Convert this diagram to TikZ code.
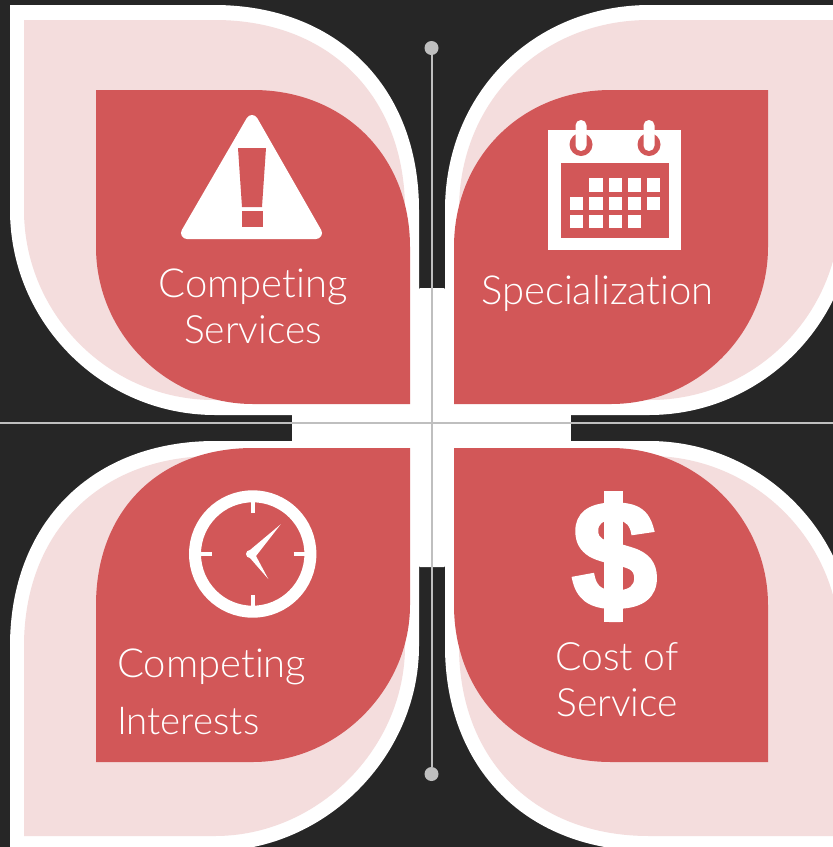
\documentclass[tikz,border=0pt]{standalone}
\usepackage{fontspec}
\usetikzlibrary{calc}
\setmainfont[Ligatures=NoCommon]{Lato Light}
\newfontfamily\dollarfont[FakeBold=2]{Liberation Sans Bold}
\definecolor{bg}{HTML}{262626}
\definecolor{leafred}{HTML}{D25758}
\definecolor{leafpink}{HTML}{F4DDDD}
\definecolor{rule}{HTML}{BFBFBF}
\tikzset{
  label text/.style={text=white,font=\fontsize{40}{40}\selectfont,anchor=base,inner sep=0pt},
  label narrow/.style={label text,font=\fontsize{39}{39}\selectfont},
  endpoint/.style={circle,fill=rule,inner sep=0pt,minimum size=14pt},
  axisline/.style={draw=rule,line width=2pt}
}
% #1 fill, #2 sharp-corner x, #3 sharp-corner y, #4 opposite x, #5 opposite y, #6 radius, #7 and #8 curve fullness
\newcommand{\leafshape}[8]{%
  \pgfmathsetmacro{\sx}{(#4>#2)?1:-1}%
  \pgfmathsetmacro{\sy}{(#5>#3)?1:-1}%
  \pgfmathsetmacro{\ax}{#4-\sx*#6}%
  \pgfmathsetmacro{\ay}{#3+\sy*#6}%
  \pgfmathsetmacro{\bx}{#2+\sx*#6}%
  \pgfmathsetmacro{\by}{#5-\sy*#6}%
  \pgfmathsetmacro{\kone}{#7*#6}%
  \pgfmathsetmacro{\ktwo}{#8*#6}%
  \fill[#1] (#2,#3) -- (\ax,#3)
    .. controls ({\ax+\sx*\kone},#3) and (#4,{\ay-\sy*\kone}) .. (#4,\ay)
    -- (#4,#5) -- (\bx,#5)
    .. controls ({\bx-\sx*\ktwo},#5) and (#2,{\by+\sy*\ktwo}) .. (#2,\by)
    -- cycle;%
}
\begin{document}
\begin{tikzpicture}[x=1pt,y=-1pt]
\useasboundingbox (0,0) rectangle (833,847);
\clip (0,0) rectangle (833,847);
\fill[bg] (0,0) rectangle (833,847);
% white
\leafshape{white}{10}{5}{419}{415}{205}{0.6}{0.55}
\leafshape{white}{854}{5}{445}{415}{205}{0.57}{0.55}
\leafshape{white}{10}{851}{419}{441}{205}{0.54}{0.6}
\leafshape{white}{854}{851}{445}{441}{205}{0.6}{0.55}
\fill[white,rounded corners=1pt] (419,288) rectangle (445,567);
\fill[white] (292,415) rectangle (571,441);
% pink
\leafshape{leafpink}{24}{20}{405}{400}{190}{0.6}{0.55}
\leafshape{leafpink}{840}{20}{459}{400}{190}{0.57}{0.55}
\leafshape{leafpink}{24}{836}{405}{456}{190}{0.54}{0.6}
\leafshape{leafpink}{840}{836}{459}{456}{190}{0.6}{0.55}
% red
\leafshape{leafred}{96}{90}{410}{404}{157}{0.58}{0.55}
\leafshape{leafred}{768}{90}{454}{404}{157}{0.57}{0.55}
\leafshape{leafred}{96}{762}{410}{448}{157}{0.54}{0.6}
\leafshape{leafred}{768}{762}{454}{448}{157}{0.58}{0.55}
% axes
\node[endpoint] (top) at (431.5,48) {};
\node[endpoint] (bottom) at (431.5,774) {};
\coordinate (west) at (0,422.5);
\coordinate (east) at (833,422.5);
\draw[axisline] (top) -- (bottom);
\draw[axisline] (west) -- (east);
% warning icon
\fill[white,draw=white,line width=12pt,line join=round] (252,121) -- (187,233) -- (316,233) -- cycle;
\fill[leafred] (238,148) -- (266,148) -- (262,207) -- (242,207) -- cycle;
\fill[leafred] (241.5,211) rectangle (263,226.5);
% calendar icon
\fill[white] (548,130) rectangle (681,250);
\fill[leafred] (561,163) rectangle (669,238);
\foreach \cx in {581,649}{
  \fill[leafred] (\cx,144.5) circle (11.5);
  \fill[white,rounded corners=5.4pt] (\cx-5.5,120) rectangle (\cx+5.5,151);
}
\foreach \row/\cols in {178.3/{589.3,608.5,627.7,646.7},196.7/{570,589.3,608.5,627.7,646.7},215/{570,589.3,608.5,627.7}}{
  \foreach \col in \cols {
    \fill[white] (\col,\row) rectangle ++(13.3,13.3);
  }
}
% clock icon
\draw[white,line width=12pt] (252.7,554) circle (57.7);
\foreach \a in {0,90,180,270}{
  \draw[white,line width=4pt] ($(252.7,554)+(\a:41)$) -- ($(252.7,554)+(\a:52)$);
}
\fill[white] (250,554) circle (4);
\fill[white] (250,550) -- (280.7,524.3) -- (256,556) -- (268.3,579) -- (250,558) -- cycle;
% dollar icon
\fill[white] (604,491) rectangle (623,621.5);
\node[text=white,inner sep=0pt,anchor=base,font=\dollarfont\fontsize{155}{155}\selectfont] (dollar) at (614.5,609) {\$};
% labels
\node[label text] (cs1) at (253,297) {Competing};
\node[label narrow] (cs2) at (253,343) {Services};
\node[label text] (sp) at (597.5,304) {Specialization};
\node[label text,anchor=base west] (ci1) at (117,677) {Competing};
\node[label narrow,anchor=base west,font=\fontsize{38.4}{38.4}\selectfont] (ci2) at (117,734) {Interests};
\node[label narrow] (co1) at (617,670) {Cost of};
\node[label narrow] (co2) at (617,716) {Service};
\end{tikzpicture}
\end{document}
